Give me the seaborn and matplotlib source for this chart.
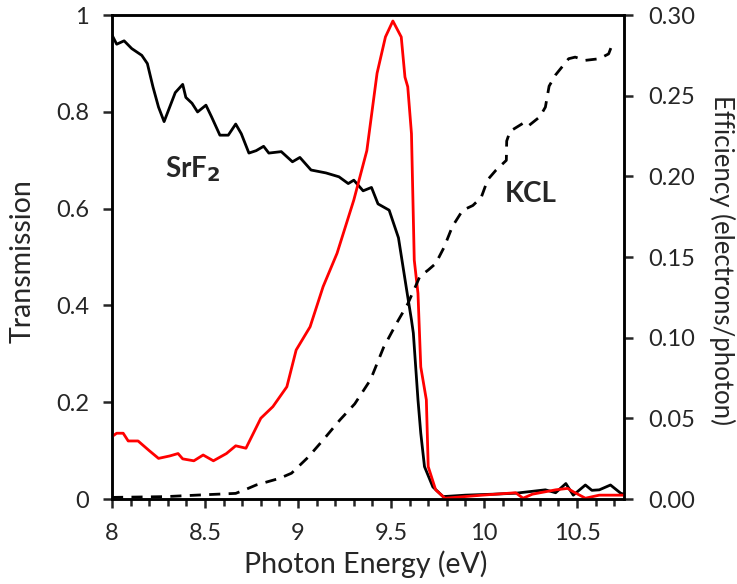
import numpy as np
import pandas as pd
import seaborn as sns
import matplotlib.pyplot as plt
from matplotlib.ticker import MultipleLocator, FixedLocator

# SrF2 transmission (left axis)
srf2_e = [8.0, 8.025, 8.065, 8.106, 8.16, 8.19, 8.22, 8.25, 8.28, 8.31, 8.34, 8.38, 8.397, 8.43,
          8.46, 8.505, 8.535, 8.58, 8.625, 8.665, 8.695, 8.736, 8.775, 8.815, 8.843, 8.91, 8.97,
          9.01, 9.07, 9.15, 9.22, 9.27, 9.30, 9.35, 9.395, 9.43, 9.49, 9.54, 9.585, 9.61, 9.62,
          9.645, 9.66, 9.68, 9.725, 9.78, 9.9, 10.05, 10.17, 10.33, 10.385, 10.44, 10.48, 10.545,
          10.58, 10.62, 10.68, 10.735, 10.75]
srf2_t = [0.959, 0.94, 0.947, 0.931, 0.917, 0.90, 0.852, 0.81, 0.78, 0.81, 0.84, 0.857, 0.83, 0.818,
          0.80, 0.814, 0.79, 0.752, 0.752, 0.775, 0.755, 0.715, 0.72, 0.729, 0.715, 0.718, 0.697,
          0.706, 0.68, 0.674, 0.666, 0.652, 0.659, 0.637, 0.644, 0.61, 0.597, 0.54, 0.43, 0.37, 0.343,
          0.205, 0.136, 0.067, 0.025, 0.005, 0.008, 0.01, 0.012, 0.019, 0.013, 0.032, 0.008, 0.029,
          0.018, 0.019, 0.029, 0.012, 0.01]

# red curve, efficiency (right axis)
red_e = [8.0, 8.025, 8.06, 8.087, 8.14, 8.2, 8.25, 8.31, 8.355, 8.38, 8.44, 8.49, 8.545, 8.615,
         8.665, 8.72, 8.76, 8.80, 8.865, 8.94, 8.99, 9.065, 9.135, 9.21, 9.30, 9.37, 9.425, 9.47,
         9.51, 9.555, 9.575, 9.59, 9.61, 9.625, 9.645, 9.66, 9.69, 9.70, 9.74, 9.79, 9.99, 10.17,
         10.21, 10.26, 10.385, 10.45, 10.48, 10.545, 10.62, 10.735, 10.75]
red_eff = [0.0387, 0.0408, 0.0408, 0.036, 0.036, 0.030, 0.0252, 0.0267, 0.0282, 0.0249, 0.0237,
           0.0273, 0.0237, 0.0282, 0.033, 0.0315, 0.0408, 0.0501, 0.0573, 0.0696, 0.0924, 0.1068,
           0.1317, 0.1524, 0.1854, 0.216, 0.264, 0.2865, 0.2964, 0.2865, 0.2616, 0.2556, 0.2265,
           0.1482, 0.1275, 0.0819, 0.0615, 0.0201, 0.0057, 0.0005, 0.0024, 0.0039, 0.0005, 0.003,
           0.0057, 0.0066, 0.0045, 0.0005, 0.0024, 0.0024, 0.0024]

# KCL efficiency (right axis)
kcl_e = [8.0, 8.29, 8.47, 8.665, 8.72, 8.775, 8.9, 8.965, 9.055, 9.135, 9.225, 9.305, 9.39, 9.46,
         9.53, 9.59, 9.64, 9.655, 9.70, 9.74, 9.785, 9.83, 9.885, 9.94, 9.985, 10.02, 10.065, 10.12,
         10.122, 10.14, 10.21, 10.235, 10.30, 10.33, 10.35, 10.385, 10.42, 10.455, 10.49, 10.545,
         10.62, 10.67, 10.69]
kcl_eff = [0.001, 0.0015, 0.0025, 0.0035, 0.006, 0.0087, 0.0128, 0.016, 0.026, 0.0366, 0.049, 0.059,
           0.074, 0.094, 0.109, 0.121, 0.134, 0.138, 0.142, 0.146, 0.156, 0.169, 0.179, 0.182, 0.187,
           0.198, 0.204, 0.210, 0.222, 0.228, 0.233, 0.231, 0.237, 0.243, 0.256, 0.263, 0.268, 0.273,
           0.274, 0.272, 0.273, 0.276, 0.282]

sns.set_style("white")
plt.rcParams['font.family'] = ['Lato', 'DejaVu Sans']

fig = plt.figure(figsize=(7.37, 5.84), dpi=100)
ax = fig.add_axes([0.152, 0.1455, 0.694, 0.8285])
ax2 = ax.twinx()

srf2 = pd.DataFrame({"e": srf2_e, "v": srf2_t})
red = pd.DataFrame({"e": red_e, "v": red_eff})
kcl = pd.DataFrame({"e": kcl_e, "v": kcl_eff})

sns.lineplot(data=srf2, x="e", y="v", ax=ax, color="black", lw=2.0, sort=False)
sns.lineplot(data=red, x="e", y="v", ax=ax2, color="#ff0000", lw=2.0, sort=False)
sns.lineplot(data=kcl, x="e", y="v", ax=ax2, color="black", lw=2.0, sort=False,
             linestyle=(0, (4, 3)))

ax.set_xlim(8, 10.75)
ax.set_ylim(0, 1)
ax2.set_ylim(0, 0.30)

ax.xaxis.set_major_locator(FixedLocator([8, 8.5, 9, 9.5, 10, 10.5]))
ax.set_xticklabels(["8", "8.5", "9", "9.5", "10", "10.5"])
ax.xaxis.set_minor_locator(MultipleLocator(0.1))
ax.set_yticks([0, 0.2, 0.4, 0.6, 0.8, 1.0])
ax.set_yticklabels(["0", "0.2", "0.4", "0.6", "0.8", "1"])
ax2.set_yticks([0, 0.05, 0.10, 0.15, 0.20, 0.25, 0.30])
ax2.set_yticklabels(["0.00", "0.05", "0.10", "0.15", "0.20", "0.25", "0.30"])

for a in (ax, ax2):
    for s in a.spines.values():
        s.set_linewidth(1.8)
        s.set_color("black")
ax.tick_params(axis="x", which="major", direction="out", length=6.5, width=1.8,
               labelsize=17, bottom=True, top=False, pad=11)
ax.tick_params(axis="x", which="minor", direction="out", length=5, width=1.8, bottom=True)
ax.tick_params(axis="y", direction="out", length=6.5, width=1.8, labelsize=17, left=True, pad=10)
ax2.tick_params(axis="y", direction="out", length=6.5, width=1.8, labelsize=17, right=True, pad=11)

ax.set_xlabel("Photon Energy (eV)", fontsize=20.5)
ax.set_ylabel("Transmission", fontsize=20.5)
ax2.set_ylabel("Efficiency (electrons/photon)", fontsize=18.5, rotation=270)
ax.xaxis.set_label_coords(0.495, -0.134)
ax.xaxis.label.set_verticalalignment("center")
ax.yaxis.set_label_coords(-0.174, 0.492)
ax.yaxis.label.set_verticalalignment("center")
ax2.yaxis.set_label_coords(1.193, 0.494)
ax2.yaxis.label.set_verticalalignment("center")

ax.text(8.285, 0.665, r"SrF$_\mathbf{2}$", fontsize=20, fontweight="bold", va="baseline")
ax.text(10.11, 0.614, "KCL", fontsize=20, fontweight="bold", va="baseline")

fig.savefig("out.png", dpi=100)
